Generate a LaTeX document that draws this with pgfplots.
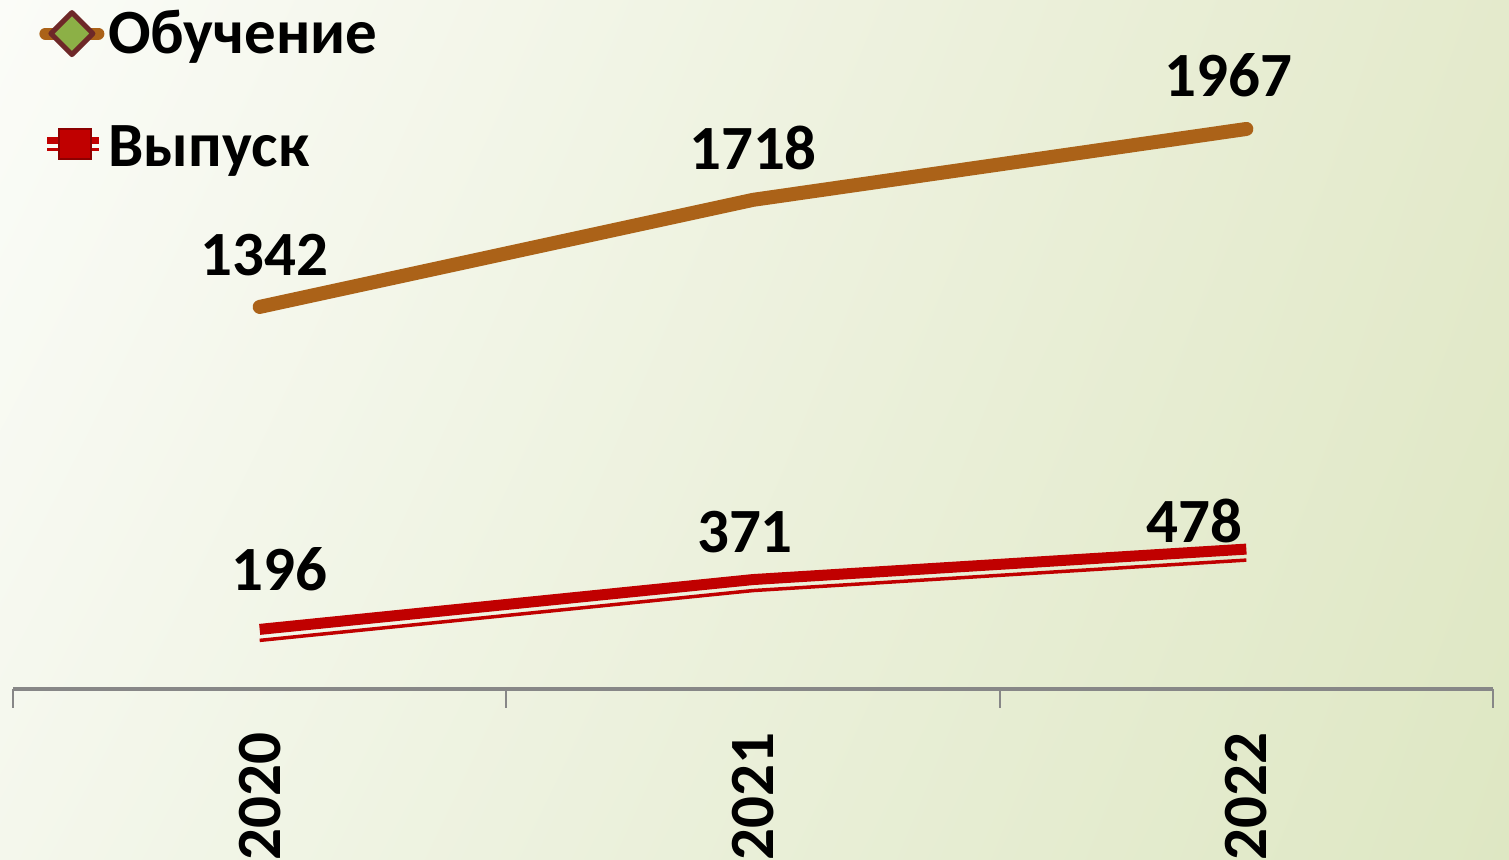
\documentclass[border=0pt]{standalone}
\usepackage{fontspec}
\setmainfont{Carlito}
\usepackage{pgfplots}
\pgfplotsset{compat=1.18}
\usetikzlibrary{shadings}
\definecolor{brownl}{RGB}{171,98,24}
\definecolor{redl}{RGB}{192,0,0}
\definecolor{axgray}{RGB}{135,135,135}
\definecolor{bgUL}{RGB}{251,252,248}
\definecolor{bgUR}{RGB}{228,234,204}
\definecolor{bgLL}{RGB}{244,247,236}
\definecolor{bgLR}{RGB}{222,231,195}
\definecolor{dmaroon}{RGB}{110,40,40}
\definecolor{dgreen}{RGB}{140,176,70}
\definecolor{dred}{RGB}{140,0,0}
\begin{document}
\begin{tikzpicture}
\shade[upper left=bgUL, upper right=bgUR, lower left=bgLL, lower right=bgLR] (-6.5pt,-85.5pt) rectangle (748pt,344.5pt);
\begin{axis}[
  at={(0,0)}, anchor=south west,
  scale only axis, width=740pt, height=344.5pt,
  xmin=-0.5, xmax=2.5, ymin=0, ymax=2420,
  axis y line=none,
  axis x line*=bottom,
  x axis line style={draw=axgray, line width=2pt},
  xtick={0,1,2}, xticklabels={2020,2021,2022},
  major tick length=0pt,
  extra x ticks={-0.5,0.5,1.5,2.5}, extra x tick labels={},
  extra x tick style={major tick length=9.5pt, tick align=outside, tick style={draw=axgray, line width=1pt}},
  xticklabel style={rotate=90, anchor=east, font=\fontsize{31.5}{31.5}\selectfont\bfseries, inner sep=0pt, xshift=-21.5pt},
  clip=false,
  legend style={at={(rel axis cs:0,1)}, anchor=north west, draw=none, fill=none,
    font=\fontsize{31.5}{31.5}\selectfont\bfseries, row sep=30.5pt, inner sep=0pt,
    xshift=13pt, yshift=-3pt},
  legend cell align=left,
]
\addplot[brownl, line width=7pt, line cap=round, line join=round, legend image code/.code={
  \path[draw=none, fill=none] (-3pt,-12pt) rectangle (29.5pt,12pt);
  \draw[brownl, line width=6pt, line cap=round] (0pt,0pt) -- (26.5pt,0pt);
  \filldraw[fill=dgreen, draw=dmaroon, line width=2.5pt] (13.25pt,10.5pt) -- (23.75pt,0pt) -- (13.25pt,-10.5pt) -- (2.75pt,0pt) -- cycle;
}] coordinates {(0,1342) (1,1718) (2,1967)};
\addlegendentry{Обучение}
\addplot[redl, line width=5.5pt, transform canvas={yshift=1.9pt}, legend image code/.code={
  \path[draw=none, fill=none] (-3pt,-12pt) rectangle (29.5pt,12pt);
  \draw[redl, line width=3.5pt] (1pt,1.6pt) -- (27pt,1.6pt);
  \draw[redl, line width=1.2pt] (1pt,-2.8pt) -- (27pt,-2.8pt);
  \filldraw[fill=redl, draw=dred, line width=1pt] (7pt,-7.5pt) rectangle (23pt,7.5pt);
}] coordinates {(0,196) (1,371) (2,478)};
\addlegendentry{Выпуск}
\addplot[redl, line width=1.75pt, transform canvas={yshift=-3.6pt}, forget plot] coordinates {(0,196) (1,371) (2,478)};
\node[font=\fontsize{31.5}{31.5}\selectfont\bfseries] at (axis cs:0,1342) [xshift=2.5pt, yshift=26pt] {1342};
\node[font=\fontsize{31.5}{31.5}\selectfont\bfseries] at (axis cs:1,1718) [xshift=0pt, yshift=26pt] {1718};
\node[font=\fontsize{31.5}{31.5}\selectfont\bfseries] at (axis cs:2,1967) [xshift=-9pt, yshift=27pt] {1967};
\node[font=\fontsize{31.5}{31.5}\selectfont\bfseries] at (axis cs:0,196) [xshift=10pt, yshift=32pt] {196};
\node[font=\fontsize{31.5}{31.5}\selectfont\bfseries] at (axis cs:1,371) [xshift=-4pt, yshift=25.5pt] {371};
\node[font=\fontsize{31.5}{31.5}\selectfont\bfseries] at (axis cs:2,478) [xshift=-26pt, yshift=16pt] {478};
\end{axis}
\pgfresetboundingbox
\useasboundingbox (-6.5pt,-85.5pt) rectangle (748pt,344.5pt);
\end{tikzpicture}
\end{document}
